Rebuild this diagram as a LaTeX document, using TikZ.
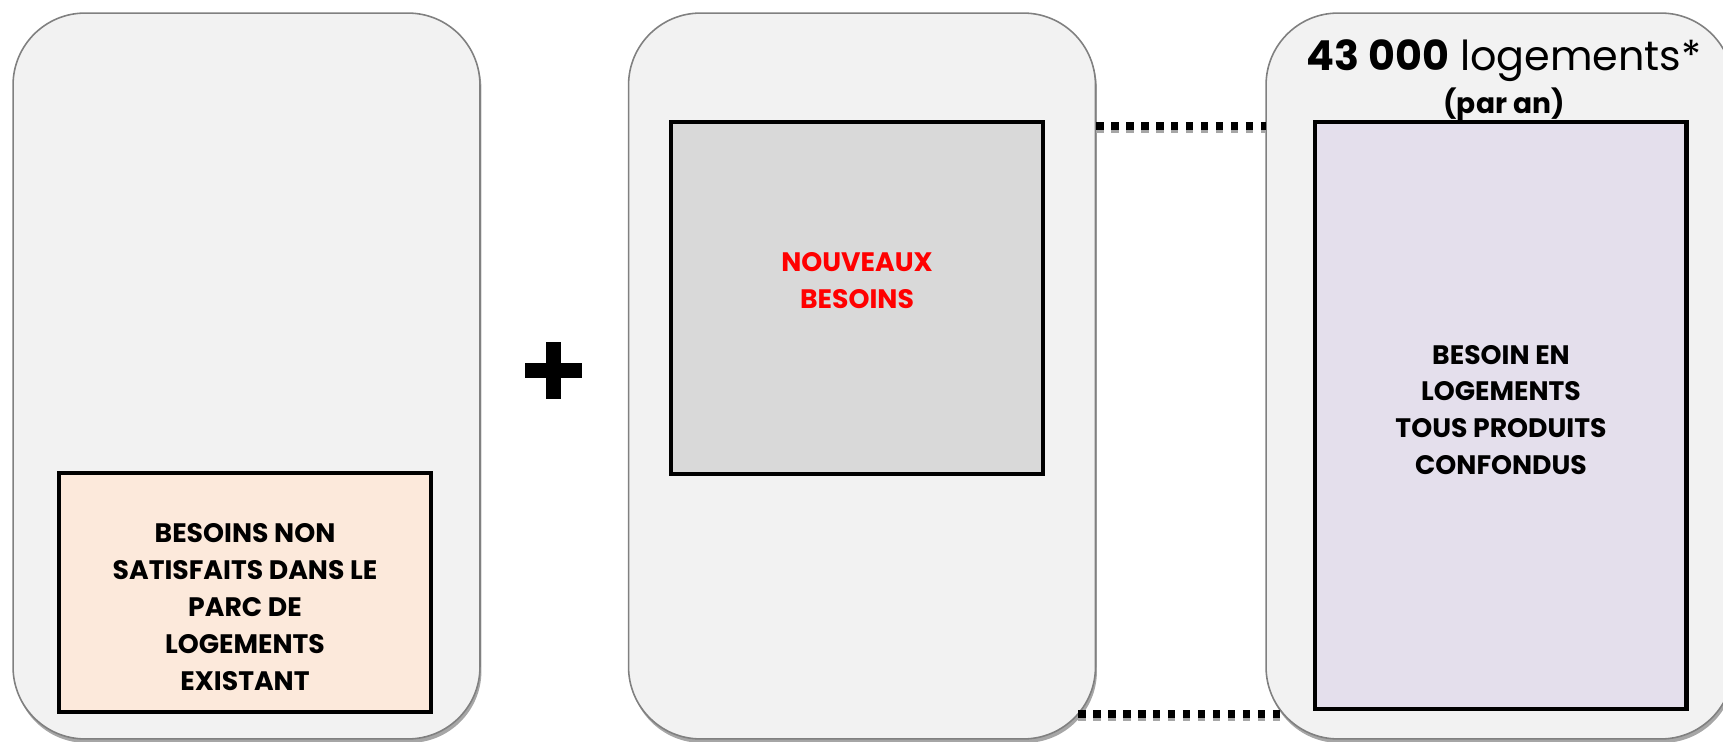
\documentclass[tikz,border=0pt]{standalone}
\usepackage{fontspec}
\setmainfont{Poppins}
\usetikzlibrary{positioning}

\definecolor{panelfill}{HTML}{F2F2F2}
\definecolor{panelline}{HTML}{808080}
\definecolor{panelshadow}{HTML}{A6A6A6}
\definecolor{peach}{HTML}{FCE9DB}
\definecolor{midgray}{HTML}{D9D9D9}
\definecolor{lavender}{HTML}{E4DFEC}

\begin{document}
\begin{tikzpicture}[x=0.02cm,y=-0.02cm,
    panel/.style={draw=panelline, fill=panelfill, line width=0.9pt, rounded corners=1.44cm,
        minimum width=9.34cm, minimum height=14.52cm, inner sep=0pt},
    shade/.style={panel, draw=none, fill=panelshadow},
    innerbox/.style={draw=black, line width=2.3pt, minimum width=7.44cm, inner sep=0pt},
    boxtext/.style={font=\fontsize{15.2}{21}\selectfont\bfseries, align=center},
    link/.style={line width=4pt, dash pattern=on 0.15cm off 0.15cm}]
    \useasboundingbox (0,0) rectangle (1723,742);
    \clip (0,0) rectangle (1723,742);

    % Panels (with shadows)
    \node[shade] at (248,380) {};
    \node[shade] at (863.5,380) {};
    \node[shade] at (1501,380) {};
    \node[panel] (p1) at (246.5,376) {};
    \node[panel] (p2) at (862,376) {};
    \node[panel] (p3) at (1499.5,376) {};

    % Inner boxes
    \node[innerbox, fill=peach, minimum height=4.78cm] (exist) at (245,592.5) {};
    \node[innerbox, fill=midgray, minimum height=7.04cm] (new) at (857,298) {};
    \node[innerbox, fill=lavender, minimum height=11.74cm] (total) at (1500.5,415.5) {};

    % Texts
    \node[boxtext] at (245,607) {BESOINS NON\\SATISFAITS DANS LE\\PARC DE\\LOGEMENTS\\EXISTANT};
    \node[boxtext, text=red] at (857,281) {NOUVEAUX\\BESOINS};
    \node[boxtext] at (1501,410) {BESOIN EN\\LOGEMENTS\\TOUS PRODUITS\\CONFONDUS};
    \node[font=\fontsize{23.5}{28}\selectfont] (head) at (1504,61) {\textbf{43 000} logements*};
    \node[font=\fontsize{16}{20}\selectfont\bfseries, below=-4pt of head] {(par an)};

    % Plus sign
    \fill (525,363) rectangle (582,378);
    \fill (546,342) rectangle (561,399);

    % Dotted links
    \coordinate (t2) at (1096,126);
    \coordinate (t3) at (1266,126);
    \coordinate (b2) at (1078,714);
    \coordinate (b3) at (1283,714);
    \draw[link, panelshadow] ([yshift=-2pt]t2) -- ([yshift=-2pt]t3);
    \draw[link] (t2) -- (t3);
    \draw[link, panelshadow] ([yshift=-2pt]b2) -- ([yshift=-2pt]b3);
    \draw[link] (b2) -- (b3);
\end{tikzpicture}
\end{document}
